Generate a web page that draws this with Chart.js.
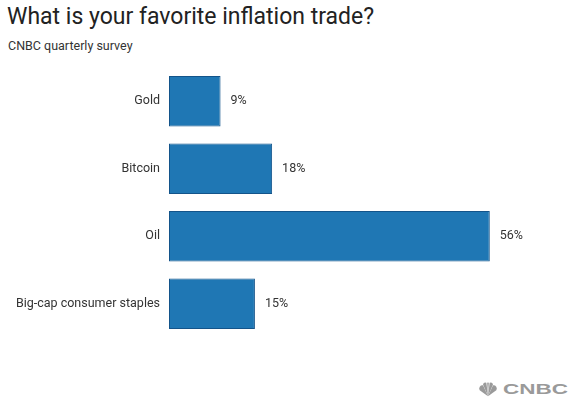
<!DOCTYPE html>
<html>
<head>
<meta charset="utf-8">
<script src="https://cdn.jsdelivr.net/npm/chart.js@4"></script>
<style>
  html, body { margin: 0; padding: 0; background: #fff; }
  body { width: 579px; height: 405px; position: relative; overflow: hidden; font-family: Roboto, sans-serif; }
  #title { position: absolute; left: 7px; top: 3px; font-size: 23px; color: #222; font-weight: 400; white-space: nowrap; }
  #subtitle { position: absolute; left: 8px; top: 38px; font-size: 12.5px; color: #333; white-space: nowrap; }
  #wrap { position: absolute; left: 0; top: 50.5px; width: 579px; height: 303px; }
  #logo { position: absolute; left: 503px; top: 380px; font-family: "Liberation Sans", Arial, sans-serif; font-weight: 700; font-size: 15px; color: #9a9a9a; transform: scaleX(1.5); transform-origin: left top; }
  #peacock { position: absolute; left: 476px; top: 382px; }
</style>
</head>
<body>
<div id="title">What is your favorite inflation trade?</div>
<div id="subtitle">CNBC quarterly survey</div>
<div id="wrap"><canvas id="bar-chart"></canvas></div>
<svg id="peacock" width="24" height="15" viewBox="0 0 22 18">
  <g fill="#9a9a9a">
    <path d="M11 17 L1 10 A4 4 0 0 1 5 4 Z"/>
    <path d="M11 17 L5 3 A3 3 0 0 1 9 1 Z"/>
    <path d="M11 17 L10 1 A2 2 0 0 1 12 1 Z"/>
    <path d="M11 17 L13 1 A3 3 0 0 1 17 3 Z"/>
    <path d="M11 17 L17 4 A4 4 0 0 1 21 10 Z"/>
  </g>
</svg>
<div id="logo">CNBC</div>
<script>
const categories = ["Gold", "Bitcoin", "Oil", "Big-cap consumer staples"]
const shares = [9, 18, 56, 15]

const ctx = document.getElementById("bar-chart")

// writes "NN%" just right of each bar
const valueLabels = {
  id: "valueLabels",
  afterDatasetsDraw(chart) {
    const c = chart.ctx
    const meta = chart.getDatasetMeta(0)
    c.save()
    c.font = "12.5px Roboto, sans-serif"
    c.fillStyle = "#333"
    c.textBaseline = "middle"
    meta.data.forEach((bar, i) => {
      c.fillText(shares[i] + "%", bar.x + 10, bar.y)
    })
    c.restore()
  },
}

new Chart(ctx, {
  type: "bar",
  data: {
    labels: categories,
    datasets: [
      {
        data: shares,
        backgroundColor: "#1f77b4",
        borderColor: "#13548a",
        borderWidth: 1,
        borderSkipped: false,
        barPercentage: 0.745,
        categoryPercentage: 1,
      },
    ],
  },
  options: {
    indexAxis: "y",
    responsive: true,
    maintainAspectRatio: false,
    animation: false,
    layout: {
      padding: { top: 0, bottom: 0, right: 9, left: 0 },
    },
    scales: {
      x: {
        display: false,
        min: 0,
        max: 70,
      },
      y: {
        grid: { display: false, drawTicks: false },
        border: { display: false },
        ticks: {
          color: "#333",
          padding: 9,
          font: { family: "Roboto, sans-serif", size: 12.5 },
        },
        afterFit(scale) {
          scale.width = 169
        },
      },
    },
    plugins: {
      legend: { display: false },
      tooltip: { enabled: false },
    },
  },
  plugins: [valueLabels],
})
</script>
</body>
</html>
